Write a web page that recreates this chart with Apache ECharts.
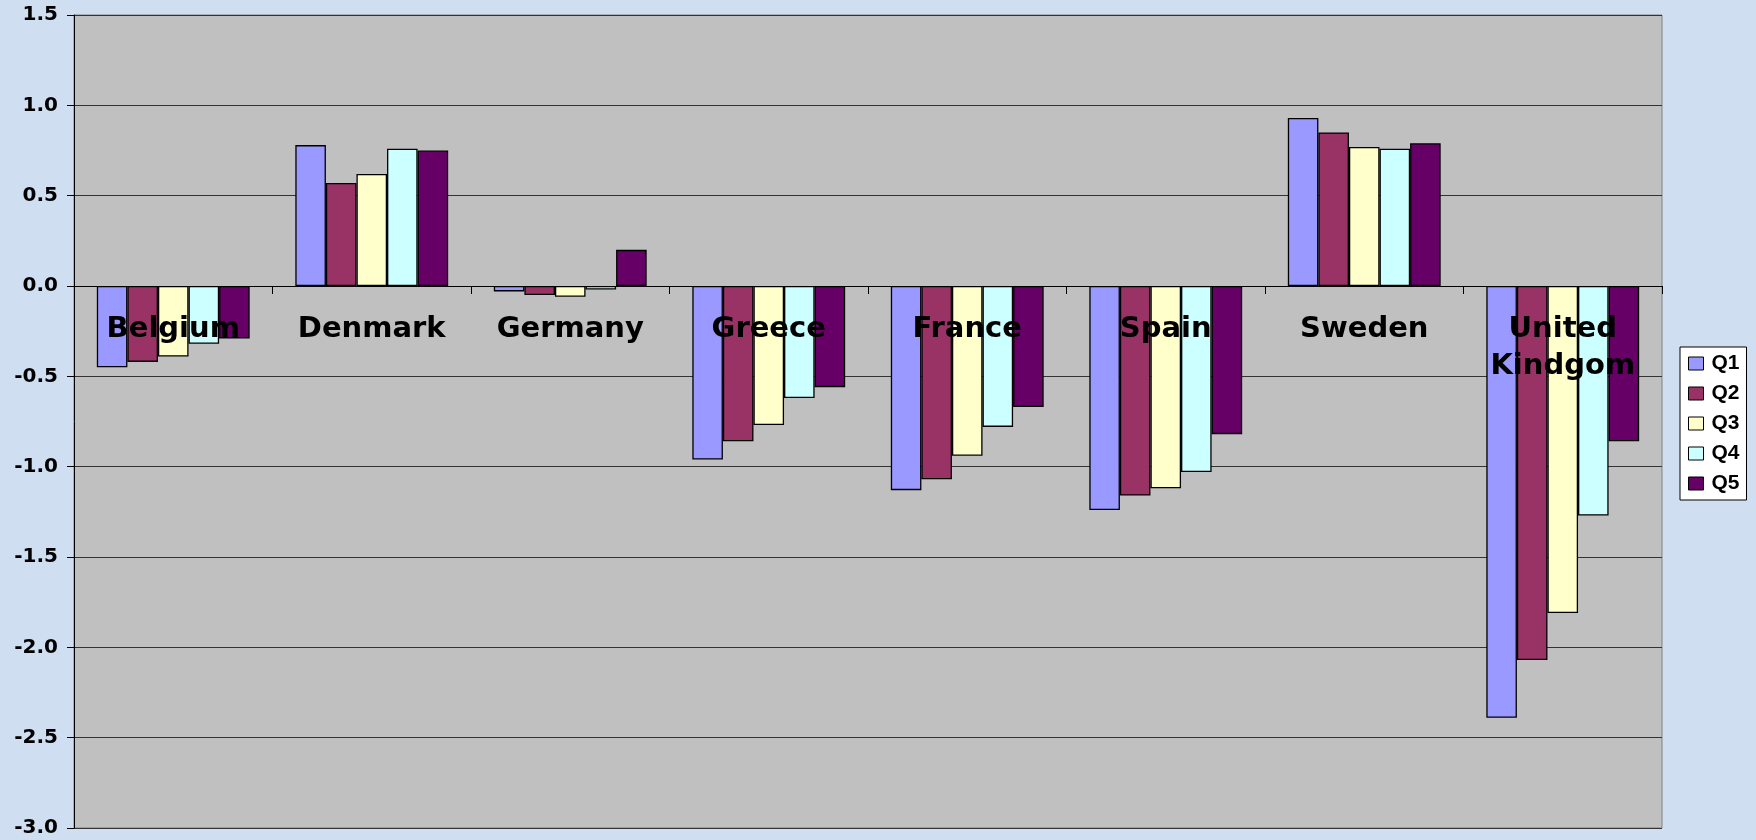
<!DOCTYPE html>
<html>
<head>
<meta charset="utf-8">
<script src="https://cdn.jsdelivr.net/npm/echarts@6/dist/echarts.min.js"></script>
<style>
html,body{margin:0;padding:0;background:#cfdef0;}
#chart{width:1756px;height:840px;}
</style>
</head>
<body>
<div id="chart"></div>
<script>
const categories = ['Belgium', 'Denmark', 'Germany', 'Greece', 'France', 'Spain', 'Sweden', 'United\nKindgom'];
const seriesNames = ['Q1', 'Q2', 'Q3', 'Q4', 'Q5'];
const q1 = [-0.45, 0.78, -0.03, -0.96, -1.13, -1.24, 0.93, -2.39];
const q2 = [-0.42, 0.57, -0.05, -0.86, -1.07, -1.16, 0.85, -2.07];
const q3 = [-0.39, 0.62, -0.06, -0.77, -0.94, -1.12, 0.77, -1.81];
const q4 = [-0.32, 0.76, -0.02, -0.62, -0.78, -1.03, 0.76, -1.27];
const q5 = [-0.29, 0.75, 0.20, -0.56, -0.67, -0.82, 0.79, -0.86];
const yTicks = { min: -3, max: 1.5, interval: 0.5 };

const seriesData = [q1, q2, q3, q4, q5];
const colors = ['#9999ff', '#993366', '#ffffcc', '#ccffff', '#660066'];

const gridTop = 15, gridBottom = 12, chartH = 840;
const plotH = chartH - gridTop - gridBottom;
// distance of the zero line above the bottom of the plot, from the axis range
const zeroFromBottom = plotH * (0 - yTicks.min) / (yTicks.max - yTicks.min);

const chart = echarts.init(document.getElementById('chart'), null, { renderer: 'canvas' });
chart.setOption({
  backgroundColor: '#cfdef0',
  animation: false,
  color: colors,
  grid: { left: 74, right: 94, top: gridTop, bottom: gridBottom, containLabel: false, outerBoundsMode: 'none',
          show: true, backgroundColor: '#c0c0c0', borderColor: '#808080', borderWidth: 1 },
  legend: {
    orient: 'vertical',
    left: 1680,
    top: 347,
    backgroundColor: '#ffffff',
    borderColor: '#000000',
    borderWidth: 1,
    borderRadius: 0,
    padding: [6, 7, 6, 8],
    itemWidth: 15,
    itemHeight: 13,
    itemGap: 9,
    icon: 'rect',
    itemStyle: { borderColor: '#000', borderWidth: 1 },
    textStyle: { fontFamily: 'Liberation Sans', fontWeight: 'bold', fontSize: 21, color: '#000', padding: [0, 0, 0, 3] },
    data: seriesNames
  },
  xAxis: {
    type: 'category',
    data: categories,
    position: 'bottom',
    offset: -zeroFromBottom,
    axisLine: { onZero: false, lineStyle: { color: '#000', width: 1 } },
    axisTick: { show: true, length: 8, lineStyle: { color: '#000' } },
    axisLabel: {
      interval: 0,
      margin: 25,
      fontFamily: 'DejaVu Sans',
      fontWeight: 'bold',
      fontSize: 29,
      lineHeight: 37,
      color: '#000',
      verticalAlign: 'top'
    },
    splitLine: { show: false },
    z: 5
  },
  yAxis: {
    type: 'value',
    min: yTicks.min,
    max: yTicks.max,
    interval: yTicks.interval,
    axisLine: { show: true, lineStyle: { color: '#000', width: 1 } },
    axisTick: { show: true, length: 7, lineStyle: { color: '#000' } },
    axisLabel: {
      margin: 16,
      fontFamily: 'DejaVu Sans',
      fontWeight: 'bold',
      fontSize: 20,
      color: '#000',
      formatter: v => v.toFixed(1)
    },
    splitLine: { show: true, lineStyle: { color: '#333', width: 1 } }
  },
  series: seriesNames.map((name, i) => ({
    name: name,
    type: 'bar',
    data: seriesData[i],
    barGap: '0%',
    barCategoryGap: '23%',
    itemStyle: { color: colors[i], borderColor: '#000', borderWidth: 1.3 },
    z: 1
  }))
});
</script>
</body>
</html>
